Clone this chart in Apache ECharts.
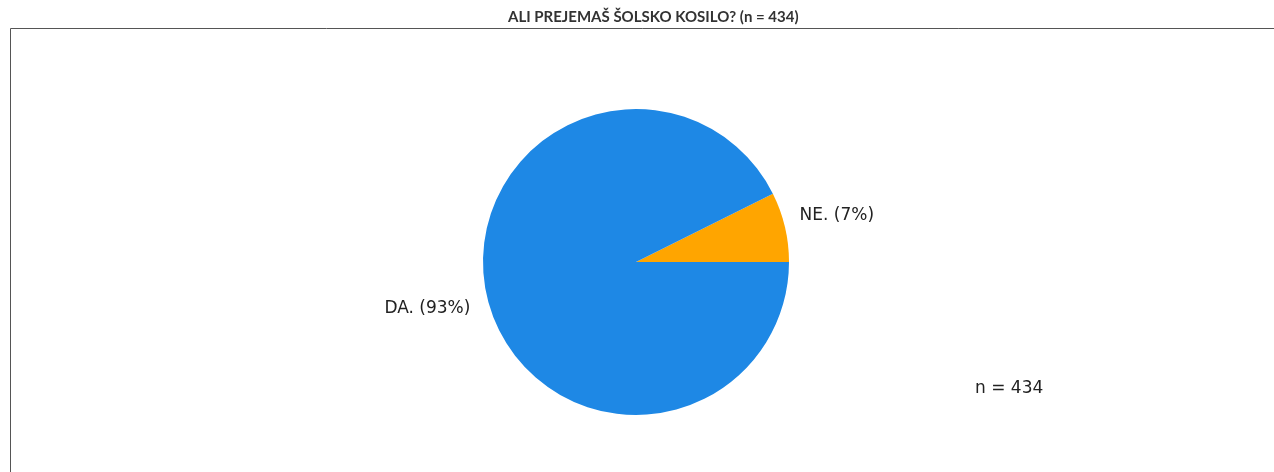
<!DOCTYPE html>
<html>
<head>
<meta charset="utf-8">
<script src="https://cdn.jsdelivr.net/npm/echarts@6/dist/echarts.min.js"></script>
<style>
  html, body { margin: 0; padding: 0; background: #fff; }
  #chart { width: 1274px; height: 472px; }
</style>
</head>
<body>
<div id="chart"></div>
<script>
const titleText = 'ALI PREJEMAŠ ŠOLSKO KOSILO? (n = 434)';
const categories = ['NE.', 'DA.'];
const counts = [32, 402];
const percents = [7, 93];
const colors = ['#ffa500', '#1e88e5'];
const nNote = 'n = 434';

const chart = echarts.init(document.getElementById('chart'));

chart.setOption({
  animation: false,
  title: {
    text: titleText,
    left: 503,
    top: 5,
    textStyle: { fontFamily: 'Lato', fontWeight: 'bold', fontSize: 15, color: '#333' }
  },
  graphic: [
    {
      type: 'polyline',
      shape: { points: [[10.5, 480], [10.5, 28.5], [1280, 28.5]] },
      style: { stroke: '#555', lineWidth: 1, fill: null }
    },
    {
      type: 'text',
      left: 975,
      top: 380,
      style: { text: nNote, font: '17px "DejaVu Sans"', fill: '#222' }
    }
  ],
  series: [
    {
      type: 'pie',
      center: [636, 262],
      radius: 153,
      startAngle: 0,
      clockwise: false,
      silent: true,
      data: categories.map((c, i) => ({
        name: c,
        value: counts[i],
        itemStyle: { color: colors[i] },
        label: { formatter: c + ' (' + percents[i] + '%)' }
      })),
      label: {
        position: 'outside',
        fontFamily: 'DejaVu Sans',
        fontSize: 17,
        color: '#222',
        distanceToLabelLine: 0
      },
      labelLine: { show: false, length: 12, length2: 0 },
      labelLayout: function (p) {
        return p.dataIndex === 0 ? { dx: 3, dy: -9 } : { dx: -5, dy: 9 };
      }
    }
  ]
});
</script>
</body>
</html>
